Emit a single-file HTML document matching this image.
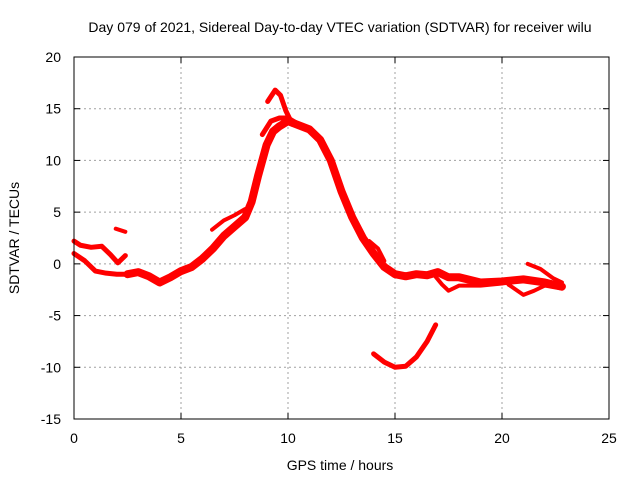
<!DOCTYPE html>
<html><head><meta charset="utf-8"><style>
body{margin:0;background:#fff}
svg{display:block;font-family:"Liberation Sans",sans-serif}
</style></head><body>
<svg id="chart" width="640" height="480">
<text x="340" y="32" font-size="14" text-anchor="middle">Day 079 of 2021, Sidereal Day-to-day VTEC variation (SDTVAR) for receiver wilu</text>
<text x="340" y="470" font-size="14" text-anchor="middle">GPS time / hours</text>
<text transform="translate(19,238) rotate(-90)" font-size="14" text-anchor="middle">SDTVAR / TECUs</text>
<g id="grid"></g><g id="axes"></g><g id="series"></g>
<rect x="74" y="57" width="535" height="362" fill="none" stroke="#000" stroke-width="1"/>
</svg>
<script>
const xTicks=[0,5,10,15,20,25];
const yTicks=[-15,-10,-5,0,5,10,15,20];
const traceUpperEarly=[[0,2.2],[0.3,1.8],[0.8,1.6],[1.3,1.7],[1.7,0.9],[2.05,0.1],[2.4,0.8]];
const traceLowerEarly=[[0,1.0],[0.5,0.3],[1,-0.7],[1.5,-0.9],[2,-1.0],[2.5,-1.0]];
const traceMain=[[2.5,-1],[3,-0.8],[3.5,-1.2],[4,-1.8],[4.5,-1.3],[5,-0.7],[5.5,-0.3],[6,0.5],[6.5,1.5],[7,2.7],[7.5,3.6],[8,4.5],[8.3,6],[8.6,8.5],[9,11.5],[9.3,12.8],[9.6,13.3],[10,13.8],[10.5,13.4],[11,13],[11.5,12],[12,10],[12.5,7],[13,4.5],[13.5,2.5],[14,1],[14.5,-0.3],[15,-1],[15.5,-1.2],[16,-1],[16.5,-1.1],[17,-0.8],[17.5,-1.3],[18,-1.3],[19,-1.8],[20,-1.7],[21,-1.5],[22,-1.8],[22.8,-2.2]];
const traceBranch7=[[6.45,3.3],[7,4.2],[7.5,4.7],[8,5.3]];
const tracePeakUpper=[[8.8,12.5],[9.2,13.8],[9.6,14.1],[10,14.1],[10.4,13.6]];
const traceSpike=[[9.05,15.7],[9.4,16.8],[9.65,16.3],[9.9,14.8],[10.2,13.5]];
const traceBranch17=[[16.8,-1],[17.2,-2],[17.5,-2.6],[18,-2.1],[19,-2.1],[20,-1.9]];
const traceBranch21=[[20.3,-2],[21,-3],[21.5,-2.6],[22,-2.1],[22.8,-2.4]];
const traceUpper21=[[21.2,0],[21.8,-0.5],[22.4,-1.4],[22.8,-1.8]];
const traceBlob=[[1.95,3.4],[2.4,3.1]];
const traceDip=[[14,-8.7],[14.5,-9.5],[15,-10],[15.5,-9.9],[16,-9],[16.5,-7.5],[16.9,-5.9]];
const traceBump=[[13.8,2.2],[14.2,1.5],[14.5,0.3]];
const traces=[traceUpperEarly,traceLowerEarly,traceMain,traceBranch7,tracePeakUpper,traceSpike,traceBranch17,traceBranch21,traceUpper21,traceBlob,traceDip,traceBump];
const traceNames=['trace-upper-early','trace-lower-early','trace-main','trace-branch-7h','trace-peak-upper','trace-spike','trace-branch-17h','trace-branch-21h','trace-upper-21h','trace-blob','trace-dip','trace-bump'];
const traceWidths=[5,5,8,4,5,5,4,4,4,4,5,4];
const X0=74,X1=609,Y0=419,Y1=57;
const xs=h=>X0+(h-0)/(25-0)*(X1-X0);
const ys=v=>Y0-(v+15)/(35)*(Y0-Y1);
const NS='http://www.w3.org/2000/svg';
const grid=document.getElementById('grid'),axes=document.getElementById('axes'),ser=document.getElementById('series');
function mk(tag,attrs,parent){const e=document.createElementNS(NS,tag);for(const k in attrs)e.setAttribute(k,attrs[k]);parent.appendChild(e);return e;}
xTicks.forEach(t=>{
  const x=xs(t);
  if(t>0&&t<25){const l=mk('line',{x1:x,x2:x,y1:Y0,y2:Y1,stroke:'#a0a0a0','stroke-dasharray':'2,3'},grid);
  
  }
  mk('line',{x1:x,x2:x,y1:Y0,y2:Y0-6,stroke:'#000'},axes);
  mk('line',{x1:x,x2:x,y1:Y1,y2:Y1+6,stroke:'#000'},axes);
  const tx=mk('text',{x:x,y:Y0+24,'font-size':14,'text-anchor':'middle'},axes);tx.textContent=t;
  
  
});
yTicks.forEach(t=>{
  const y=ys(t);
  if(t>-15&&t<20){const l=mk('line',{x1:X0,x2:X1,y1:y,y2:y,stroke:'#a0a0a0','stroke-dasharray':'2,3'},grid);
  
  }
  mk('line',{x1:X0,x2:X0+6,y1:y,y2:y,stroke:'#000'},axes);
  mk('line',{x1:X1,x2:X1-6,y1:y,y2:y,stroke:'#000'},axes);
  const tx=mk('text',{x:X0-13,y:y+5,'font-size':14,'text-anchor':'end'},axes);tx.textContent=t;
  
  
});
traces.forEach((tr,i)=>{
  const p=mk('polyline',{points:tr.map(d=>xs(d[0])+','+ys(d[1])).join(' '),fill:'none',stroke:'#ff0000','stroke-width':traceWidths[i],'stroke-linejoin':'round','stroke-linecap':'round'},ser);
  
  
});
</script>
</body></html>
